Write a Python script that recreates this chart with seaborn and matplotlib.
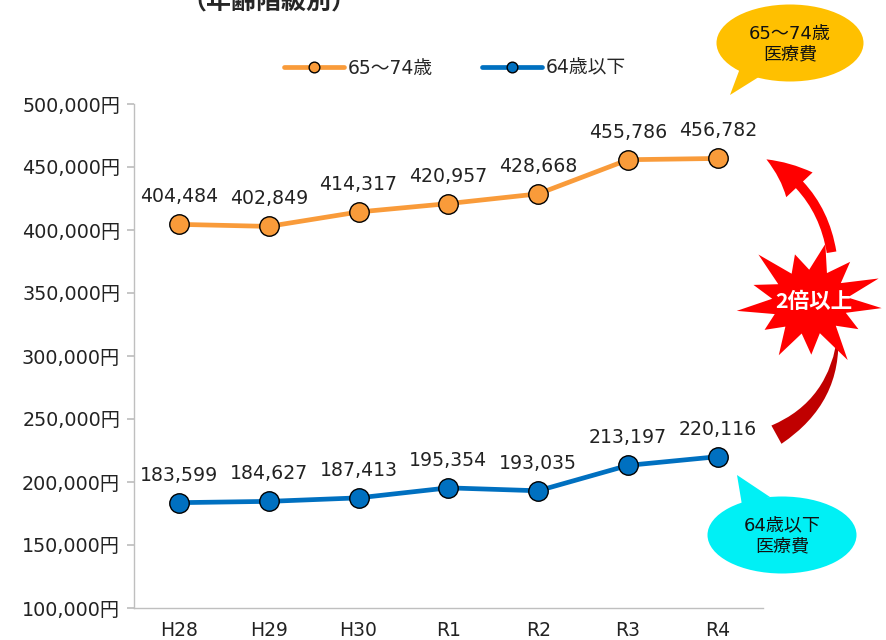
import numpy as np
import pandas as pd
import seaborn as sns
import matplotlib.pyplot as plt
from matplotlib.patches import Ellipse, Polygon, FancyArrowPatch
from matplotlib.ticker import FuncFormatter

years = ['H28', 'H29', 'H30', 'R1', 'R2', 'R3', 'R4']
cost_65_74 = [404484, 402849, 414317, 420957, 428668, 455786, 456782]
cost_under64 = [183599, 184627, 187413, 195354, 193035, 213197, 220116]
series_names = ['65～74歳', '64歳以下']
colors = {'65～74歳': '#F99B3A', '64歳以下': '#0070C0'}

df = pd.DataFrame({
    'year': years * 2,
    'cost': cost_65_74 + cost_under64,
    'group': [series_names[0]] * len(years) + [series_names[1]] * len(years),
})

sns.set_theme(style='white')
plt.rcParams['font.family'] = ['DejaVu Sans', 'Noto Sans CJK JP']

fig = plt.figure(figsize=(8.87, 6.40), dpi=100)
ax = fig.add_axes([0.151, 0.05, 0.709, 0.7875])

sns.lineplot(data=df, x='year', y='cost', hue='group', palette=colors,
             hue_order=series_names, marker='o', markersize=14,
             markeredgecolor='black', markeredgewidth=1.0, linewidth=3.4,
             sort=False, ax=ax)

for name, vals in zip(series_names, [cost_65_74, cost_under64]):
    for i, v in enumerate(vals):
        ax.annotate(f'{v:,}', (i, v), xytext=(0, 13), textcoords='offset points',
                    ha='center', va='bottom', fontsize=13.6, color='#222222')

ax.set_xlim(-0.5, len(years) - 0.5)
ax.set_ylim(100000, 500000)
ax.set_yticks(np.arange(100000, 500001, 50000))
ax.yaxis.set_major_formatter(FuncFormatter(lambda v, p: f'{int(v):,}円'))
ax.tick_params(axis='y', left=True, length=5, color='#BFBFBF', labelsize=13.8,
               labelcolor='#222222', pad=5)
ax.tick_params(axis='x', bottom=False, labelsize=13.5, labelcolor='#222222', pad=3)
ax.set_xlabel('')
ax.set_ylabel('')
for s in ['top', 'right']:
    ax.spines[s].set_visible(False)
for s in ['left', 'bottom']:
    ax.spines[s].set_color('#BFBFBF')
    ax.spines[s].set_linewidth(1.0)

ax.legend(loc='center', bbox_to_anchor=(0.51, 1.071), ncol=2, frameon=False,
          fontsize=13.5, handlelength=3.2, columnspacing=2.6, handletextpad=0.2,
          markerscale=0.55)

fig.text(0.205, 1 - 10 / 640, '（年齢階級別）', fontsize=18, fontweight='bold',
         ha='left', va='baseline', family=['Noto Sans CJK JP'])

# decorations in pixel coordinates
ov = fig.add_axes([0, 0, 1, 1])
ov.set_xlim(0, 887)
ov.set_ylim(640, 0)
ov.axis('off')
ov.patch.set_alpha(0)

# orange callout
ov.add_patch(Polygon([[745, 55], [730, 95], [770, 70]], closed=True,
                     facecolor='#FFC000', edgecolor='none'))
ov.add_patch(Ellipse((790, 43), 147, 77, facecolor='#FFC000', edgecolor='none'))
ov.text(790, 44, '65～74歳\n医療費', ha='center', va='center', fontsize=13,
        linespacing=1.2, color='#111111')

# cyan callout
ov.add_patch(Polygon([[737, 475], [742, 505], [770, 497]], closed=True,
                     facecolor='#00F0F5', edgecolor='none'))
ov.add_patch(Ellipse((782, 535), 149, 77, facecolor='#00F0F5', edgecolor='none'))
ov.text(782, 536, '64歳以下\n医療費', ha='center', va='center', fontsize=13,
        linespacing=1.2, color='#111111')

# curved arrows
up = FancyArrowPatch((832, 255), (764, 158), connectionstyle='arc3,rad=0.25',
                     arrowstyle='simple,head_width=1.3,head_length=1.5,tail_width=0.35',
                     mutation_scale=20, facecolor='#FF0000', edgecolor='none')
ov.add_patch(up)
down = FancyArrowPatch((774, 436), (838, 330), connectionstyle='arc3,rad=0.3',
                       arrowstyle='wedge,tail_width=0.75,shrink_factor=0.5',
                       mutation_scale=20, facecolor='#C00000', edgecolor='none')
ov.add_patch(down)

# starburst
n = 13
outer = np.array([72, 58, 78, 62, 70, 56, 74, 60, 76, 58, 70, 62, 74])
ang = np.linspace(0, 2 * np.pi, 2 * n, endpoint=False) + 0.1
rad = np.empty(2 * n)
rad[0::2] = outer
rad[1::2] = 38
cx, cy = 810, 302
pts = np.column_stack([cx + rad * np.cos(ang), cy + rad * 0.85 * np.sin(ang)])
ov.add_patch(Polygon(pts, closed=True, facecolor='#FF0000', edgecolor='none'))
ov.text(cx + 4, cy, '2倍以上', ha='center', va='center', fontsize=15.5,
        fontweight='bold', color='white', family=['Noto Sans CJK JP'])

fig.savefig('out.png', dpi=100)
